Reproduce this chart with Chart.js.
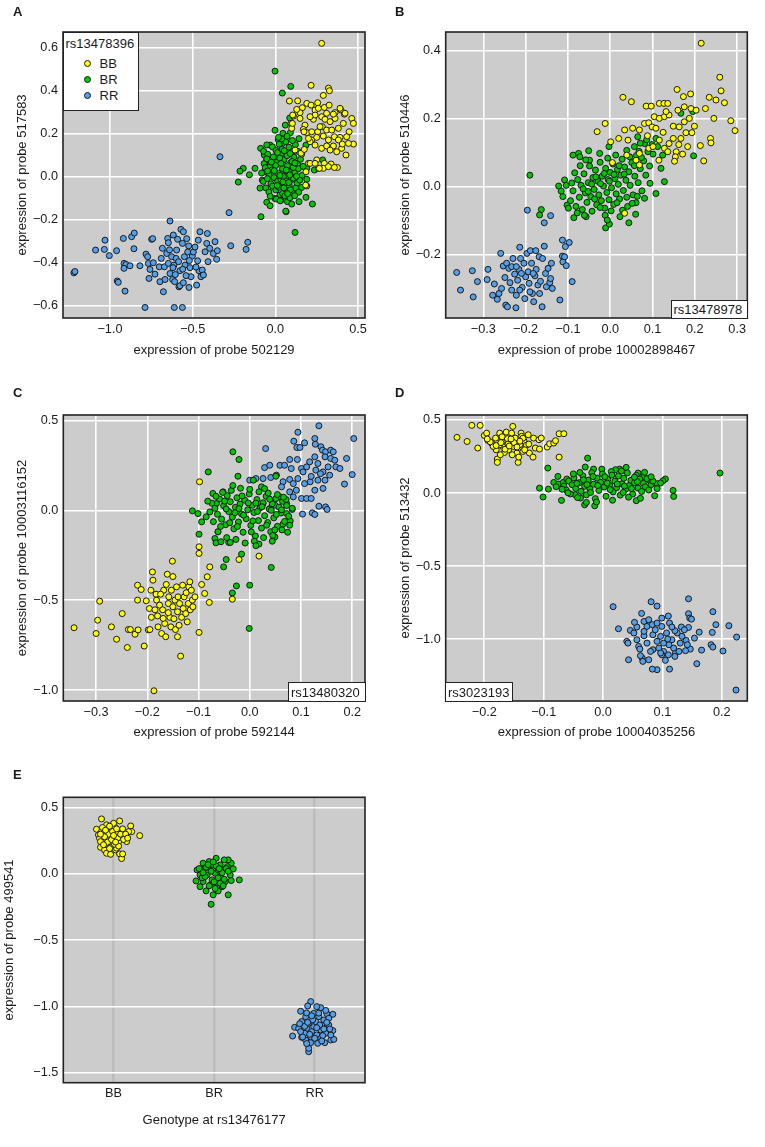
<!DOCTYPE html>
<html>
<head>
<meta charset="utf-8">
<script src="https://cdn.jsdelivr.net/npm/chart.js@4.4.1/dist/chart.umd.min.js"></script>
<style>
  body { margin: 0; background: #fff; width: 765px; height: 1147px; position: relative; overflow: hidden;
         font-family: 'Liberation Sans', Arial, Helvetica, sans-serif; color: #1a1a1a; }
  canvas { position: absolute; }
  .tag { position: absolute; font-weight: bold; font-size: 13px; line-height: 15px; }
  .box { position: absolute; background: #fff; border: 1.5px solid #222; box-sizing: border-box;
         font-size: 13px; line-height: 15px; white-space: nowrap; }
  .box span { position: absolute; }
  .dot { width: 7px; height: 7px; border-radius: 50%; border: 1px solid #1a1a1a; box-sizing: border-box; }
</style>
</head>
<body>
<canvas id="chartA" width="380" height="370" style="left:0;top:0"></canvas>
<canvas id="chartB" width="385" height="370" style="left:380px;top:0"></canvas>
<canvas id="chartC" width="380" height="380" style="left:0;top:370px"></canvas>
<canvas id="chartD" width="385" height="380" style="left:380px;top:370px"></canvas>
<canvas id="chartE" width="380" height="397" style="left:0;top:750px"></canvas>

<div class="tag" style="left:13px;top:4px">A</div>
<div class="tag" style="left:395px;top:4px">B</div>
<div class="tag" style="left:13px;top:385px">C</div>
<div class="tag" style="left:395px;top:385px">D</div>
<div class="tag" style="left:13px;top:767px">E</div>

<div class="box" style="left:63px;top:32px;width:76px;height:79px">
  <span style="left:1.5px;top:3px">rs13478396</span>
  <span class="dot" id="keyBB" style="left:20px;top:27px"></span><span style="left:35.5px;top:23px">BB</span>
  <span class="dot" id="keyBR" style="left:20px;top:43px"></span><span style="left:35.5px;top:39px">BR</span>
  <span class="dot" id="keyRR" style="left:20px;top:59px"></span><span style="left:35.5px;top:55px">RR</span>
</div>
<div class="box" style="left:671px;top:300px;width:77px;height:19px"><span style="left:1.5px;top:1px">rs13478978</span></div>
<div class="box" style="left:288px;top:682px;width:78px;height:20px"><span style="left:2px;top:1.5px">rs13480320</span></div>
<div class="box" style="left:445px;top:682px;width:68px;height:20px"><span style="left:2px;top:1.5px">rs3023193</span></div>

<script>
// genotype colours
const colBB = '#ffff00';
const colBR = '#00c800';
const colRR = '#55a0ea';

// ---- panel A: probe 502129 vs 517583, rs13478396 ----
const aXTicks = [-1, -0.5, 0, 0.5];
const aYTicks = [-0.6, -0.4, -0.2, 0, 0.2, 0.4, 0.6];
const aBB = [[0.280,0.620],[0.216,0.425],[0.321,0.412],[0.327,0.400],[0.290,0.378],[0.085,0.352],[0.135,0.353],[0.190,0.341],[0.216,0.333],[0.256,0.344],
  [0.163,0.321],[0.149,0.298],[0.129,0.313],[0.109,0.282],[0.240,0.310],[0.260,0.318],[0.296,0.322],[0.325,0.333],[0.361,0.298],[0.397,0.310],
  [0.417,0.291],[0.462,0.271],[0.472,0.248],[0.095,0.248],[0.099,0.225],[0.149,0.271],[0.179,0.240],[0.230,0.267],[0.280,0.279],[0.300,0.267],
  [0.331,0.256],[0.361,0.271],[0.411,0.248],[0.446,0.209],[0.472,0.152],[0.427,0.101],[0.169,0.220],[0.190,0.205],[0.220,0.209],[0.256,0.209],
  [0.284,0.233],[0.310,0.217],[0.341,0.217],[0.381,0.225],[0.220,0.171],[0.250,0.183],[0.290,0.189],[0.321,0.171],[0.357,0.186],[0.391,0.183],
  [0.431,0.186],[0.280,0.132],[0.310,0.143],[0.351,0.143],[0.401,0.132],[0.442,0.155],[0.159,0.105],[0.200,0.062],[0.250,0.078],[0.296,0.062],
  [0.337,0.059],[0.375,0.043],[0.260,0.039],[0.290,0.039],[0.321,0.047],[0.357,0.043],[0.190,-0.043],[0.155,0.109],[0.175,0.127],[0.210,0.163],
  [0.240,0.147],[0.381,0.171],[0.405,0.152],[0.331,0.124],[0.371,0.116],[0.183,-0.039],[0.119,0.124],[0.210,0.062],[0.185,0.023],[0.266,0.039],
  [0.240,0.062],[0.240,0.287],[0.210,0.279],[0.421,0.295],[0.391,0.318],[0.351,0.291],[0.310,0.295],[0.270,0.233],[0.200,0.178],[0.173,0.209],
  [0.103,0.248],[0.105,0.287]];
const aBR = [[-0.002,0.491],[0.093,0.420],[0.042,0.389],[0.087,0.273],[0.060,0.240],[-0.002,0.216],[0.046,0.202],[0.091,0.205],[0.143,0.177],[-0.089,0.132],
  [-0.032,0.147],[0.018,0.171],[0.048,0.158],[-0.194,0.039],[-0.214,0.026],[-0.157,0.009],[-0.123,0.039],[-0.224,-0.025],[-0.093,-0.053],[-0.079,-0.016],
  [-0.067,0.101],[-0.052,0.078],[-0.062,0.054],[-0.067,0.023],[-0.052,-0.119],[-0.032,-0.135],[-0.087,-0.186],[-0.002,-0.101],[0.028,-0.085],[0.034,-0.109],
  [0.065,-0.163],[0.073,-0.116],[0.099,-0.127],[0.113,-0.081],[0.143,-0.116],[0.185,-0.096],[0.224,-0.127],[0.159,-0.050],[0.190,-0.012],[0.236,0.031],
  [0.286,0.078],[0.185,0.147],[0.190,0.039],[0.119,-0.259],[0.063,-0.160],
  [-0.071,0.118],[-0.046,0.104],[-0.018,0.139],[0.004,0.122],[0.023,0.151],[0.041,0.128],[0.063,0.163],[0.082,0.137],[0.104,0.118],[0.121,0.149],
  [-0.068,0.061],[-0.052,0.083],[-0.033,0.047],[-0.012,0.092],[0.012,0.068],[0.031,0.103],[0.052,0.079],[0.071,0.098],[0.093,0.066],[0.112,0.091],
  [0.134,0.058],[0.152,0.081],[-0.083,0.017],[-0.061,0.042],[-0.038,0.008],[-0.021,0.031],[0.002,0.052],[0.019,0.016],[0.043,0.038],[0.061,0.012],
  [0.079,0.029],[0.098,0.049],[0.118,0.021],[0.139,0.037],[0.161,0.006],[-0.073,-0.022],[-0.048,-0.009],[-0.027,-0.033],[-0.008,-0.004],[0.014,-0.021],
  [0.033,-0.012],[0.054,-0.036],[0.071,0.003],[0.092,-0.018],[0.109,-0.007],[0.131,-0.031],[0.148,-0.016],[-0.058,-0.052],[-0.039,-0.071],[-0.017,-0.044],
  [0.003,-0.062],[0.022,-0.049],[0.044,-0.078],[0.063,-0.058],[0.084,-0.041],[0.101,-0.069],[0.122,-0.053],[0.141,-0.072],[-0.031,-0.091],[0.006,-0.104],
  [0.029,-0.112],[0.058,-0.089],[0.088,-0.098],[0.117,-0.088],[0.013,0.112],[0.054,0.121],[0.089,0.108],[-0.006,0.028],[0.034,0.062],[0.073,0.051],
  [0.108,0.043],[0.048,0.001],[0.087,0.008],[0.011,-0.041],[0.051,-0.052],[0.091,-0.061],[0.074,-0.079],[0.028,0.006],[-0.047,0.027],[0.128,0.002],
  [0.168,0.048],[0.158,0.108],[0.137,0.118],[0.038,0.176],[0.071,0.188],[0.103,0.168],[-0.052,0.148],[0.019,0.183],[0.026,0.087],[0.066,0.031],
  [0.101,0.071],[-0.024,0.068],[0.046,-0.024],[0.081,-0.027],[0.118,0.064]];
const aRR = [[-1.218,-0.447],[-1.212,-0.441],[-1.087,-0.341],[-1.030,-0.295],[-1.034,-0.338],[-1.004,-0.367],[-0.960,-0.344],[-0.956,-0.485],[-0.950,-0.491],[-0.919,-0.287],
  [-0.915,-0.403],[-0.903,-0.408],[-0.915,-0.426],[-0.909,-0.532],[-0.879,-0.414],[-0.869,-0.279],[-0.853,-0.262],[-0.855,-0.335],[-0.819,-0.414],[-0.788,-0.608],
  [-0.782,-0.360],[-0.772,-0.372],[-0.768,-0.403],[-0.758,-0.431],[-0.748,-0.291],[-0.742,-0.288],[-0.764,-0.473],[-0.738,-0.400],[-0.728,-0.453],[-0.702,-0.419],
  [-0.698,-0.488],[-0.683,-0.333],[-0.677,-0.535],[-0.671,-0.419],[-0.667,-0.478],[-0.657,-0.357],[-0.651,-0.287],[-0.647,-0.307],[-0.647,-0.403],[-0.637,-0.206],
  [-0.637,-0.450],[-0.627,-0.372],[-0.621,-0.478],[-0.617,-0.271],[-0.611,-0.608],[-0.562,-0.608],[-0.613,-0.411],[-0.619,-0.423],[-0.609,-0.488],[-0.597,-0.341],
  [-0.591,-0.291],[-0.583,-0.512],[-0.577,-0.507],[-0.577,-0.437],[-0.571,-0.245],[-0.562,-0.310],[-0.556,-0.256],[-0.556,-0.493],[-0.550,-0.372],[-0.546,-0.411],
  [-0.536,-0.288],[-0.524,-0.322],[-0.522,-0.515],[-0.516,-0.423],[-0.510,-0.465],[-0.502,-0.369],[-0.496,-0.350],[-0.486,-0.327],[-0.476,-0.504],[-0.470,-0.391],
  [-0.466,-0.295],[-0.462,-0.437],[-0.456,-0.256],[-0.450,-0.465],[-0.442,-0.434],[-0.435,-0.457],[-0.425,-0.349],[-0.415,-0.310],[-0.411,-0.264],[-0.407,-0.395],
  [-0.397,-0.333],[-0.375,-0.357],[-0.365,-0.302],[-0.355,-0.384],[-0.351,-0.344],[-0.335,0.093],[-0.280,-0.167],[-0.270,-0.321],[-0.177,-0.338],[-0.167,-0.305],
  [-0.600,-0.380],[-0.585,-0.395],[-0.640,-0.340],[-0.530,-0.350],[-0.560,-0.430],[-0.690,-0.380],[-0.605,-0.455],[-0.540,-0.460],[-0.480,-0.420],[-0.520,-0.390]];

// ---- panel B: probe 10002898467 vs 510446, rs13478978 ----
const bXTicks = [-0.3, -0.2, -0.1, 0, 0.1, 0.2, 0.3];
const bYTicks = [-0.2, 0, 0.2, 0.4];
const bBB = [[0.215,0.422],[0.259,0.322],[0.262,0.282],[0.270,0.247],[0.250,0.255],[0.234,0.263],[0.225,0.230],[0.245,0.201],[0.285,0.194],[0.295,0.165],
  [0.237,0.142],[0.238,0.129],[0.213,0.121],[0.221,0.076],[0.158,0.286],[0.173,0.265],[0.190,0.273],[0.030,0.263],[0.050,0.250],[0.085,0.237],
  [0.097,0.237],[0.116,0.245],[0.127,0.245],[0.136,0.245],[-0.031,0.162],[-0.012,0.186],[0.001,0.132],[0.020,0.142],[0.034,0.167],[0.053,0.172],
  [0.042,0.137],[0.069,0.167],[0.081,0.186],[0.091,0.188],[0.099,0.176],[0.108,0.172],[0.104,0.206],[0.116,0.201],[0.128,0.206],[0.139,0.211],
  [0.149,0.178],[0.163,0.176],[0.175,0.191],[0.187,0.201],[0.199,0.178],[0.179,0.159],[0.193,0.159],[0.167,0.142],[0.149,0.142],[0.139,0.127],
  [0.128,0.113],[0.136,0.103],[0.156,0.103],[0.171,0.096],[0.154,0.088],[0.152,0.075],[0.115,0.078],[0.116,0.137],[0.091,0.113],[0.101,0.118],
  [0.069,0.098],[0.061,0.078],[0.039,0.093],[0.005,0.071],[0.034,-0.078],[0.069,0.064],[0.175,0.235],[0.191,0.230],[0.203,0.225],[0.132,0.221],
  [0.160,0.225],[0.183,0.118],[0.162,0.124],[0.125,0.160],[0.088,0.150]];
const bBR = [[-0.190,0.034],[-0.163,-0.067],[-0.167,-0.083],[-0.122,0.002],[-0.116,-0.013],[-0.112,-0.029],[-0.108,0.020],[-0.102,-0.054],[-0.088,0.093],[-0.086,-0.091],
  [-0.075,0.098],[-0.072,0.088],[-0.057,-0.088],[-0.051,0.106],[-0.049,0.078],[-0.011,-0.121],[-0.002,-0.110],[0.044,-0.106],[0.060,-0.081],[0.061,-0.047],
  [0.081,-0.034],[0.094,0.010],[0.108,-0.020],[0.128,0.015],[0.120,0.054],[0.124,0.093],[0.197,0.091],[0.065,0.147],[0.057,0.118],[-0.003,0.118],
  [-0.025,0.098],[0.081,0.127],[0.101,0.096],[0.108,0.142],[0.167,0.216],[0.195,0.221],
  [-0.094,-0.041],[-0.088,-0.012],[-0.081,-0.058],[-0.077,0.021],[-0.073,-0.031],[-0.069,0.004],[-0.066,-0.067],[-0.062,0.038],[-0.059,-0.018],[-0.055,-0.046],
  [-0.052,0.012],[-0.049,0.061],[-0.046,-0.029],[-0.043,-0.072],[-0.041,0.027],[-0.038,-0.008],[-0.035,0.049],[-0.032,-0.053],[-0.029,0.016],[-0.027,-0.024],
  [-0.024,0.072],[-0.021,-0.041],[-0.019,0.031],[-0.016,0.002],[-0.013,-0.063],[-0.011,0.054],[-0.008,-0.017],[-0.005,0.021],[-0.003,-0.038],[0.000,0.042],
  [0.003,-0.003],[0.006,0.067],[0.008,-0.052],[0.011,0.024],[0.014,-0.021],[0.017,0.051],[0.019,0.007],[0.022,-0.036],[0.025,0.034],[0.028,0.081],
  [0.031,-0.011],[0.034,0.058],[0.037,0.019],[0.041,-0.058],[0.044,0.044],[0.047,0.004],[0.051,0.071],[0.054,-0.024],[0.058,0.031],[0.062,0.092],
  [0.066,0.012],[0.071,0.053],[0.075,-0.012],[0.079,0.076],[0.084,0.034],[0.089,0.103],[-0.084,0.041],[-0.071,0.062],[-0.058,0.079],[-0.091,0.011],
  [-0.064,-0.006],[-0.044,0.008],[-0.034,0.029],[-0.023,0.009],[-0.014,0.039],[-0.002,0.016],[0.009,0.036],[0.021,0.062],[0.033,0.037],[0.046,0.088],
  [0.057,0.062],[0.068,0.104],[-0.052,-0.014],[-0.037,-0.036],[-0.024,-0.061],[-0.012,-0.084],[0.002,-0.071],[0.016,-0.047],[0.029,-0.069],[0.039,-0.031],
  [0.052,-0.049],[0.064,-0.028],[-0.078,-0.077],[-0.061,-0.084],[0.013,0.093],[-0.006,0.084],[0.039,0.107],[0.074,0.086],[0.093,0.061],[0.099,0.124],
  [0.086,0.138],[0.112,0.118],[0.071,0.128],[-0.007,-0.098],[0.023,-0.088],[-0.099,-0.063],[-0.104,0.004]];
const bRR = [[-0.363,-0.252],[-0.354,-0.304],[-0.326,-0.247],[-0.324,-0.324],[-0.314,-0.279],[-0.291,-0.273],[-0.289,-0.243],[-0.278,-0.319],[-0.274,-0.286],[-0.267,-0.331],
  [-0.263,-0.314],[-0.259,-0.196],[-0.253,-0.233],[-0.249,-0.267],[-0.247,-0.348],[-0.243,-0.353],[-0.245,-0.225],[-0.240,-0.240],[-0.237,-0.282],[-0.233,-0.304],
  [-0.230,-0.211],[-0.226,-0.257],[-0.223,-0.356],[-0.222,-0.319],[-0.219,-0.275],[-0.216,-0.243],[-0.214,-0.178],[-0.212,-0.211],[-0.208,-0.296],[-0.204,-0.225],
  [-0.202,-0.329],[-0.200,-0.265],[-0.197,-0.196],[-0.194,-0.250],[-0.192,-0.284],[-0.189,-0.188],[-0.186,-0.225],[-0.184,-0.314],[-0.181,-0.338],[-0.178,-0.262],
  [-0.176,-0.188],[-0.175,-0.243],[-0.171,-0.289],[-0.168,-0.206],[-0.165,-0.278],[-0.161,-0.353],[-0.160,-0.211],[-0.156,-0.175],[-0.153,-0.255],[-0.151,-0.294],
  [-0.147,-0.240],[-0.143,-0.282],[-0.141,-0.270],[-0.139,-0.225],[-0.137,-0.299],[-0.196,-0.069],[-0.156,-0.106],[-0.141,-0.085],[-0.119,-0.333],[-0.113,-0.157],
  [-0.112,-0.221],[-0.113,-0.204],[-0.108,-0.206],[-0.106,-0.176],[-0.104,-0.232],[-0.097,-0.164],[-0.090,-0.279],[-0.233,-0.235],[-0.222,-0.235],[-0.182,-0.255],
  [-0.210,-0.255],[-0.190,-0.309],[-0.214,-0.304],[-0.257,-0.299],[-0.167,-0.314]];

// ---- panel C: probe 592144 vs 10003116152, rs13480320 ----
const cXTicks = [-0.3, -0.2, -0.1, 0, 0.1, 0.2];
const cYTicks = [-1, -0.5, 0, 0.5];
const cBB = [[-0.343,-0.653],[-0.300,-0.685],[-0.297,-0.611],[-0.293,-0.505],[-0.270,-0.648],[-0.260,-0.717],[-0.249,-0.574],[-0.239,-0.763],[-0.237,-0.663],[-0.233,-0.663],
  [-0.224,-0.689],[-0.219,-0.416],[-0.219,-0.499],[-0.218,-0.665],[-0.212,-0.440],[-0.206,-0.755],[-0.202,-0.503],[-0.198,-0.665],[-0.195,-0.663],[-0.196,-0.546],
  [-0.193,-0.444],[-0.190,-0.342],[-0.189,-0.388],[-0.187,-1.004],[-0.185,-0.553],[-0.182,-0.499],[-0.180,-0.587],[-0.179,-0.648],[-0.176,-0.527],[-0.172,-0.685],
  [-0.170,-0.553],[-0.168,-0.444],[-0.166,-0.629],[-0.164,-0.703],[-0.163,-0.412],[-0.161,-0.355],[-0.159,-0.518],[-0.158,-0.481],[-0.156,-0.595],[-0.154,-0.648],
  [-0.153,-0.444],[-0.151,-0.282],[-0.150,-0.368],[-0.150,-0.536],[-0.148,-0.603],[-0.146,-0.499],[-0.145,-0.663],[-0.143,-0.425],[-0.141,-0.564],[-0.140,-0.481],
  [-0.138,-0.639],[-0.137,-0.518],[-0.135,-0.811],[-0.133,-0.595],[-0.131,-0.416],[-0.130,-0.546],[-0.128,-0.481],[-0.125,-0.574],[-0.124,-0.458],[-0.122,-0.620],
  [-0.120,-0.518],[-0.119,-0.425],[-0.117,-0.397],[-0.116,-0.553],[-0.114,-0.444],[-0.112,-0.499],[-0.111,-0.536],[-0.107,-0.481],[-0.099,-0.679],[-0.099,-0.202],
  [-0.099,-0.239],[-0.098,0.160],[-0.094,-0.412],[-0.088,-0.462],[-0.083,-0.369],[-0.079,-0.512],[-0.078,-0.314],[-0.034,-0.494],[-0.021,-0.273],[0.018,-0.254],
  [-0.183,-0.466],[-0.174,-0.466],[-0.169,-0.601],[-0.192,-0.595],[-0.159,-0.569],[-0.141,-0.703]];
const cBR = [[-0.033,0.327],[-0.021,0.284],[-0.081,0.215],[-0.023,0.191],[-0.112,-0.002],[-0.101,-0.017],[-0.099,-0.132],[-0.094,-0.063],[-0.085,-0.035],[-0.068,-0.156],
  [-0.066,-0.180],[-0.062,-0.119],[-0.056,-0.174],[-0.051,-0.314],[-0.046,-0.273],[-0.041,-0.178],[-0.034,-0.459],[-0.026,-0.420],[-0.016,-0.243],[-0.001,-0.657],
  [0.000,-0.416],[0.018,-0.187],[0.042,-0.317],[0.049,-0.147],[0.065,-0.076],[0.079,-0.058],[0.072,-0.017],[0.059,0.076],[0.051,0.191],[0.007,0.169],
  [0.023,0.132],[-0.072,0.095],[-0.052,0.104],[-0.065,0.039],
  [-0.074,0.041],[-0.068,0.012],[-0.063,-0.021],[-0.059,0.064],[-0.055,-0.048],[-0.051,0.027],[-0.047,-0.079],[-0.044,0.083],[-0.041,-0.006],[-0.038,0.049],
  [-0.034,-0.037],[-0.031,-0.102],[-0.028,0.018],[-0.025,0.071],[-0.022,-0.064],[-0.019,0.036],[-0.016,-0.019],[-0.013,-0.121],[-0.010,0.058],[-0.007,-0.046],
  [-0.004,0.004],[-0.001,0.092],[0.002,-0.083],[0.005,0.029],[0.008,-0.011],[0.011,-0.142],[0.014,0.061],[0.017,-0.056],[0.020,0.014],[0.023,-0.098],
  [0.026,0.043],[0.029,-0.029],[0.032,0.079],[0.035,-0.067],[0.038,0.008],[0.041,-0.118],[0.044,0.037],[0.047,-0.041],[0.051,0.066],[0.054,-0.088],
  [0.057,0.019],[0.061,-0.014],[0.064,0.051],[0.068,-0.061],[0.072,0.028],[0.076,-0.032],[-0.071,-0.062],[-0.062,-0.118],[-0.053,0.101],[-0.045,-0.151],
  [-0.036,0.112],[-0.027,-0.161],[-0.018,0.124],[-0.009,-0.181],[0.000,0.118],[0.009,-0.171],[0.018,0.104],[0.027,-0.151],[0.036,0.097],[0.045,-0.139],
  [0.054,0.089],[0.063,-0.108],[-0.078,-0.008],[-0.066,0.079],[-0.049,0.052],[-0.039,-0.068],[-0.029,-0.012],[-0.021,0.011],[-0.012,-0.026],[-0.003,0.042],
  [0.006,-0.058],[0.015,-0.005],[0.024,0.021],[0.033,-0.082],[0.042,0.001],[0.052,-0.022],[0.062,0.004],[0.071,0.061],[0.078,-0.082],[0.083,0.012],
  [-0.057,-0.089],[-0.046,0.009],[-0.024,-0.089],[-0.015,0.081],[0.003,-0.119],[0.012,0.041],[0.039,0.063],[0.049,-0.108],[0.066,0.074],[0.074,-0.121],
  [-0.082,0.052],[-0.033,0.139],[0.029,0.122],[0.012,-0.196],[-0.038,-0.178],[0.044,-0.171]];
const cRR = [[0.135,0.472],[0.094,0.436],[0.203,0.401],[0.127,0.401],[0.086,0.386],[0.092,0.351],[0.098,0.351],[0.107,0.377],[0.128,0.369],[0.139,0.355],
  [0.142,0.336],[0.148,0.327],[0.158,0.336],[0.163,0.327],[0.031,0.345],[0.127,0.299],[0.147,0.299],[0.158,0.290],[0.189,0.290],[0.078,0.284],
  [0.093,0.284],[0.117,0.271],[0.133,0.262],[0.153,0.243],[0.168,0.243],[0.029,0.239],[0.039,0.252],[0.059,0.252],[0.068,0.252],[0.081,0.234],
  [0.101,0.234],[0.111,0.243],[0.129,0.225],[0.143,0.215],[0.156,0.197],[0.200,0.200],[0.000,0.169],[0.012,0.178],[0.026,0.178],[0.041,0.184],
  [0.052,0.197],[0.065,0.160],[0.078,0.173],[0.094,0.178],[0.107,0.150],[0.118,0.160],[0.133,0.169],[0.147,0.169],[0.185,0.147],[0.062,0.132],
  [0.078,0.104],[0.091,0.113],[0.101,0.067],[0.111,0.067],[0.120,0.067],[0.085,0.076],[0.127,0.113],[0.143,0.123],[0.083,0.006],[0.103,-0.020],
  [0.122,-0.013],[0.127,-0.022],[0.135,0.024],[0.148,0.020],[0.151,0.006],[0.072,0.039],[0.049,0.030],[0.039,0.011],[0.026,0.039],[0.085,0.150],
  [0.104,0.215],[0.176,0.234],[0.166,0.280],[0.120,0.190],[0.138,0.205]];

// ---- panel D: probe 10004035256 vs 513432, rs3023193 ----
const dXTicks = [-0.2, -0.1, 0, 0.1, 0.2];
const dYTicks = [-1, -0.5, 0, 0.5];
const dBB = [[-0.246,0.381],[-0.229,0.353],[-0.221,0.463],[-0.211,0.308],[-0.207,0.463],[-0.200,0.394],[-0.196,0.410],[-0.194,0.360],[-0.187,0.337],[-0.181,0.376],
  [-0.180,0.296],[-0.178,0.233],[-0.178,0.210],[-0.174,0.410],[-0.170,0.353],[-0.169,0.319],[-0.163,0.417],[-0.161,0.372],[-0.159,0.296],[-0.156,0.342],
  [-0.154,0.410],[-0.152,0.456],[-0.151,0.319],[-0.148,0.376],[-0.145,0.274],[-0.143,0.210],[-0.140,0.331],[-0.138,0.410],[-0.137,0.388],[-0.135,0.285],
  [-0.133,0.356],[-0.129,0.328],[-0.126,0.399],[-0.124,0.274],[-0.118,0.246],[-0.117,0.376],[-0.114,0.308],[-0.108,0.365],[-0.104,0.376],[-0.107,0.301],
  [-0.094,0.315],[-0.090,0.337],[-0.083,0.342],[-0.080,0.358],[-0.074,0.246],[-0.074,0.406],[-0.066,0.406],[-0.185,0.319],[-0.174,0.330],[-0.166,0.278],
  [-0.153,0.262],[-0.132,0.296],[-0.142,0.246],[-0.173,0.262],[-0.190,0.350],[-0.160,0.335],[-0.150,0.345],[-0.170,0.385],[-0.145,0.315],[-0.180,0.325],
  [-0.135,0.375],[-0.165,0.300],[-0.155,0.370],[-0.125,0.335],[-0.195,0.370],[-0.140,0.355],[-0.172,0.345],[-0.158,0.322]];
const dBR = [[0.197,0.137],[-0.107,0.034],[-0.101,-0.027],[-0.093,0.171],[-0.092,0.027],[-0.083,0.073],[-0.076,0.114],[-0.075,0.062],[-0.070,-0.050],[-0.067,0.073],
  [-0.061,0.096],[-0.030,0.178],[-0.026,0.239],[-0.031,-0.080],[-0.028,-0.064],[-0.014,-0.087],[-0.047,-0.011],[-0.038,-0.034],[0.056,-0.052],[0.087,-0.018],
  [0.105,0.096],[0.101,0.084],[0.118,0.018],[0.119,-0.023],[0.091,0.064],[0.079,0.084],[0.069,0.114],[0.059,0.137],[0.039,0.176],[0.028,0.164],
  [0.021,0.160],[-0.002,0.164],[-0.016,0.164],
  [-0.066,0.048],[-0.062,0.021],[-0.058,0.082],[-0.055,-0.006],[-0.052,0.057],[-0.049,0.104],[-0.046,0.032],[-0.043,-0.031],[-0.040,0.071],[-0.037,0.012],
  [-0.034,0.118],[-0.031,0.046],[-0.028,-0.012],[-0.025,0.088],[-0.022,0.029],[-0.019,0.139],[-0.016,0.061],[-0.013,-0.038],[-0.010,0.102],[-0.007,0.018],
  [-0.004,0.074],[-0.001,0.131],[0.002,0.042],[0.005,-0.022],[0.008,0.093],[0.011,0.054],[0.014,0.147],[0.017,0.008],[0.020,0.081],[0.023,0.037],
  [0.026,0.117],[0.029,-0.014],[0.032,0.064],[0.035,0.101],[0.038,0.026],[0.041,0.138],[0.044,0.052],[0.047,0.087],[0.050,-0.006],[0.053,0.071],
  [0.056,0.121],[0.059,0.034],[0.062,0.096],[0.065,0.011],[0.068,0.066],[0.071,0.043],[0.074,0.099],[0.077,0.021],[0.081,0.058],[0.084,0.082],
  [-0.059,0.002],[-0.044,0.066],[-0.033,0.091],[-0.021,0.004],[-0.009,0.052],[0.003,0.112],[0.012,0.024],[0.024,0.062],[0.036,0.048],[0.048,0.031],
  [0.058,0.078],[0.070,0.142],[-0.039,0.141],[-0.011,-0.061],[0.016,-0.049],[0.043,-0.028],[0.063,-0.036],[0.015,0.123],[0.031,0.151],[-0.050,0.131],
  [0.091,0.031],[0.097,0.069],[-0.069,0.026],[-0.079,0.044],[0.007,0.068],[-0.017,0.113],[0.053,0.109],[0.034,0.004],[-0.027,0.058],[0.081,0.111]];
const dRR = [[0.017,-0.777],[0.081,-0.743],[0.091,-0.773],[0.144,-0.723],[0.065,-0.823],[0.099,-0.855],[0.110,-0.841],[0.144,-0.825],[0.146,-0.855],[0.149,-0.862],
  [0.185,-0.811],[0.190,-0.900],[0.212,-0.907],[0.225,-0.985],[0.202,-1.080],[0.184,-0.953],[0.182,-1.037],[0.185,-1.053],[0.224,-1.347],[0.158,-1.167],
  [0.166,-1.074],[0.154,-0.992],[0.162,-0.951],[0.144,-0.919],[0.132,-0.916],[0.140,-1.008],[0.147,-1.067],[0.139,-1.078],[0.130,-1.026],[0.125,-0.957],
  [0.121,-0.941],[0.122,-1.094],[0.121,-1.117],[0.112,-1.204],[0.110,-1.106],[0.102,-1.083],[0.099,-1.106],[0.111,-1.037],[0.116,-1.003],[0.107,-0.957],
  [0.097,-0.980],[0.091,-1.014],[0.084,-1.071],[0.091,-1.208],[0.083,-1.204],[0.077,-1.140],[0.066,-1.128],[0.067,-1.151],[0.063,-1.112],[0.043,-1.140],
  [0.040,-1.014],[0.042,-1.026],[0.026,-0.928],[0.046,-0.939],[0.057,-0.916],[0.053,-0.884],[0.069,-0.878],[0.077,-0.866],[0.074,-0.912],[0.083,-0.900],
  [0.091,-0.889],[0.069,-0.976],[0.060,-1.049],[0.074,-1.026],[0.084,-0.969],[0.088,-0.935],[0.094,-1.060],[0.102,-1.026],[0.109,-0.998],[0.119,-1.060],
  [0.128,-1.083],[0.133,-0.980],[0.137,-0.935],[0.112,-0.889],[0.099,-0.912],[0.116,-0.916],[0.105,-1.144],[0.097,-1.094],[0.080,-1.083],[0.142,-1.037],
  [0.062,-1.067],[0.052,-0.957],[0.057,-1.003],[0.069,-0.946]];

// ---- panel E: genotype at rs13476177 vs probe 499541 (x = jitter around category) ----
const eCategories = ['BB', 'BR', 'RR'];
const eYTicks = [-1.5, -1, -0.5, 0, 0.5];
const eBB = [[-0.12,0.415],[-0.17,0.337],[-0.15,0.294],[-0.14,0.269],[-0.13,0.201],[-0.09,0.181],[-0.07,0.156],[-0.03,0.148],[0.02,0.181],[0.03,0.194],
  [0.06,0.151],[0.08,0.116],[0.09,0.151],[0.06,0.400],[0.17,0.362],[0.18,0.319],[0.26,0.289],[0.13,0.244],[0.12,0.294],[0.08,0.332],
  [0.01,0.357],[-0.07,0.350],[-0.10,0.307],[-0.03,0.314],[0.02,0.287],[-0.02,0.244],[-0.06,0.269],[-0.08,0.224],[0.05,0.244],[0.08,0.277],
  [0.01,0.224],[-0.04,0.191],[0.10,0.319],[-0.12,0.319],[0.00,0.382],[-0.07,0.370],[0.03,0.312],[-0.03,0.282],[-0.13,0.244],[0.15,0.319],
  [-0.05,0.300],[0.04,0.270],[-0.09,0.280],[0.07,0.300],[-0.01,0.320],[0.10,0.260],[-0.11,0.350],[0.03,0.340],[-0.06,0.240],[0.12,0.300],
  [-0.02,0.260],[0.05,0.210],[-0.08,0.330],[0.00,0.290],[0.09,0.340],[-0.04,0.360],[0.14,0.270],[-0.13,0.300],[0.02,0.240],[-0.10,0.220]];
const eBR = [[-0.03,-0.229],[-0.18,-0.053],[-0.17,0.030],[-0.14,-0.096],[-0.08,-0.128],[-0.01,-0.158],[0.04,-0.128],[0.14,-0.158],[0.25,-0.045],[0.19,0.038],
  [0.17,0.081],[0.14,0.106],[0.02,0.118],[-0.11,0.081],[-0.12,0.030],[-0.06,0.055],[0.06,0.068],[0.09,0.030],[0.16,-0.008],[0.11,-0.058],
  [0.08,-0.096],[0.03,-0.070],[-0.02,-0.045],[-0.07,-0.008],[0.01,0.005],[0.06,-0.020],[-0.04,-0.083],[-0.11,-0.058],[-0.14,-0.008],[0.13,0.055],
  [0.17,-0.050],[0.04,0.030],[-0.01,0.068],[-0.09,0.043],[-0.05,0.093],[0.10,0.106],
  [-0.03,0.020],[0.04,-0.030],[-0.08,0.050],[0.08,0.010],[0.00,-0.060],[-0.12,-0.030],[0.12,0.040],[-0.05,-0.090],[0.06,-0.070],[0.02,0.060],
  [-0.09,-0.020],[0.10,-0.040],[-0.01,0.090],[0.14,0.020],[-0.15,0.040],[0.05,0.040],[-0.06,0.070],[0.01,-0.110],[0.09,-0.090],[-0.11,0.010]];
const eRR = [[-0.04,-0.963],[-0.07,-0.996],[0.06,-1.009],[-0.14,-1.036],[0.12,-1.054],[0.18,-1.059],[-0.22,-1.223],[-0.20,-1.157],[-0.13,-1.233],[-0.06,-1.341],
  [-0.06,-1.316],[-0.04,-1.273],[0.03,-1.278],[0.10,-1.273],[0.16,-1.253],[0.19,-1.248],[0.18,-1.182],[0.14,-1.140],[0.09,-1.102],[0.04,-1.077],
  [-0.01,-1.052],[-0.09,-1.077],[-0.13,-1.114],[-0.16,-1.165],[-0.08,-1.165],[-0.01,-1.152],[0.06,-1.177],[0.11,-1.202],[0.02,-1.215],[-0.04,-1.228],
  [-0.10,-1.202],[0.01,-1.114],[-0.06,-1.127],[0.07,-1.140],[0.14,-1.089],[0.02,-1.001],[-0.03,-1.190],[0.06,-1.240],[-0.14,-1.190],[-0.09,-1.253],
  [0.16,-1.215],[-0.08,-1.049],
  [-0.02,-1.100],[0.05,-1.140],[-0.10,-1.150],[0.09,-1.170],[-0.05,-1.210],[0.02,-1.160],[-0.07,-1.120],[0.12,-1.120],[0.00,-1.240],[-0.12,-1.230],
  [0.08,-1.220],[-0.03,-1.070],[0.04,-1.050],[0.15,-1.170],[-0.15,-1.130],[0.07,-1.260],[-0.08,-1.280],[0.11,-1.030]];

Chart.defaults.font.family = "'Liberation Sans', Arial, Helvetica, sans-serif";
Chart.defaults.color = '#1a1a1a';

document.getElementById('keyBB').style.background = colBB;
document.getElementById('keyBR').style.background = colBR;
document.getElementById('keyRR').style.background = colRR;

function fmt(v) {
    return v.toFixed(1).replace('-', '\u2212');
}

function series(label, list, color, xOffset) {
    return {
        label: label,
        data: list.map(p => ({ x: p[0] + (xOffset || 0), y: p[1] })),
        backgroundColor: color,
        borderColor: '#1a1a1a',
        borderWidth: 1,
        pointRadius: 3,
        pointHoverRadius: 3
    };
}

// grey panel background and black frame
const plotFrame = {
    id: 'plotFrame',
    beforeDraw(chart) {
        const { ctx, chartArea: a } = chart;
        ctx.save();
        ctx.fillStyle = '#cccccc';
        ctx.fillRect(a.left, a.top, a.right - a.left, a.bottom - a.top);
        ctx.restore();
    },
    afterDraw(chart) {
        const { ctx, chartArea: a } = chart;
        ctx.save();
        ctx.strokeStyle = '#222';
        ctx.lineWidth = 1.6;
        ctx.strokeRect(a.left, a.top, a.right - a.left, a.bottom - a.top);
        ctx.restore();
    }
};

// box: plot area edges and title positions, all in canvas pixels
function makePanel(id, box, xs, ys, datasets) {
    const canvas = document.getElementById(id);
    const w = canvas.width, h = canvas.height;
    const xH = box.xTitleY - box.bottom + 7.8 + 2;
    return new Chart(canvas, {
        type: 'scatter',
        data: { datasets: datasets },
        plugins: [plotFrame],
        options: {
            responsive: false,
            animation: false,
            events: [],
            layout: { padding: { left: 0, top: box.top, right: w - box.right, bottom: h - box.bottom - xH } },
            plugins: { legend: { display: false }, tooltip: { enabled: false } },
            scales: {
                x: {
                    type: 'linear', min: xs.min, max: xs.max,
                    afterBuildTicks: s => { s.ticks = xs.ticks.map(v => ({ value: v })); },
                    afterFit: s => { s.height = xH; },
                    grid: { color: xs.gridColor || '#ffffff', lineWidth: xs.gridWidth || 1.6, drawTicks: false },
                    border: { display: false },
                    ticks: { padding: 3.5, autoSkip: false, maxRotation: 0, font: { size: 12.7 }, callback: xs.label || fmt },
                    title: { display: true, text: xs.title, font: { size: 13, lineHeight: 1.2 }, padding: { top: 0, bottom: 2 } }
                },
                y: {
                    type: 'linear', min: ys.min, max: ys.max,
                    afterBuildTicks: s => { s.ticks = ys.ticks.map(v => ({ value: v })); },
                    afterFit: s => { s.width = box.left; },
                    grid: { color: '#ffffff', lineWidth: 1.6, drawTicks: false },
                    border: { display: false },
                    ticks: { padding: 5, autoSkip: false, font: { size: 12.7 }, callback: fmt },
                    title: { display: true, text: ys.title, font: { size: 13, lineHeight: 1.2 }, padding: { top: box.yTitleX - 7.8, bottom: 0 } }
                }
            }
        }
    });
}

makePanel('chartA',
    { left: 63, top: 32, right: 365, bottom: 318, yTitleX: 22.5, xTitleY: 350 },
    { min: -1.284, max: 0.542, ticks: aXTicks, title: 'expression of probe 502129' },
    { min: -0.657, max: 0.673, ticks: aYTicks, title: 'expression of probe 517583' },
    [series('BB', aBB, colBB), series('BR', aBR, colBR), series('RR', aRR, colRR)]);

makePanel('chartB',
    { left: 65.7, top: 32, right: 367.3, bottom: 318, yTitleX: 25, xTitleY: 350 },
    { min: -0.389, max: 0.324, ticks: bXTicks, title: 'expression of probe 10002898467' },
    { min: -0.386, max: 0.455, ticks: bYTicks, title: 'expression of probe 510446' },
    [series('BB', bBB, colBB), series('BR', bBR, colBR), series('RR', bRR, colRR)]);

makePanel('chartC',
    { left: 63.3, top: 45, right: 365, bottom: 331, yTitleX: 22.3, xTitleY: 362.7 },
    { min: -0.364, max: 0.225, ticks: cXTicks, title: 'expression of probe 592144' },
    { min: -1.061, max: 0.532, ticks: cYTicks, title: 'expression of probe 10003116152' },
    [series('BB', cBB, colBB), series('BR', cBR, colBR), series('RR', cRR, colRR)]);

makePanel('chartD',
    { left: 65.7, top: 45, right: 367.3, bottom: 331, yTitleX: 25, xTitleY: 362.7 },
    { min: -0.265, max: 0.243, ticks: dXTicks, title: 'expression of probe 10004035256' },
    { min: -1.422, max: 0.534, ticks: dYTicks, title: 'expression of probe 513432' },
    [series('BB', dBB, colBB), series('BR', dBR, colBR), series('RR', dRR, colRR)]);

makePanel('chartE',
    { left: 63.3, top: 47.3, right: 365, bottom: 332.7, yTitleX: 9.5, xTitleY: 370.7 },
    { min: 0.5, max: 3.5, ticks: [1, 2, 3], title: 'Genotype at rs13476177',
      label: v => eCategories[Math.round(v) - 1], gridColor: '#bcbcbc', gridWidth: 2.5 },
    { min: -1.575, max: 0.578, ticks: eYTicks, title: 'expression of probe 499541' },
    [series('BB', eBB, colBB, 1), series('BR', eBR, colBR, 2), series('RR', eRR, colRR, 3)]);
</script>
</body>
</html>
